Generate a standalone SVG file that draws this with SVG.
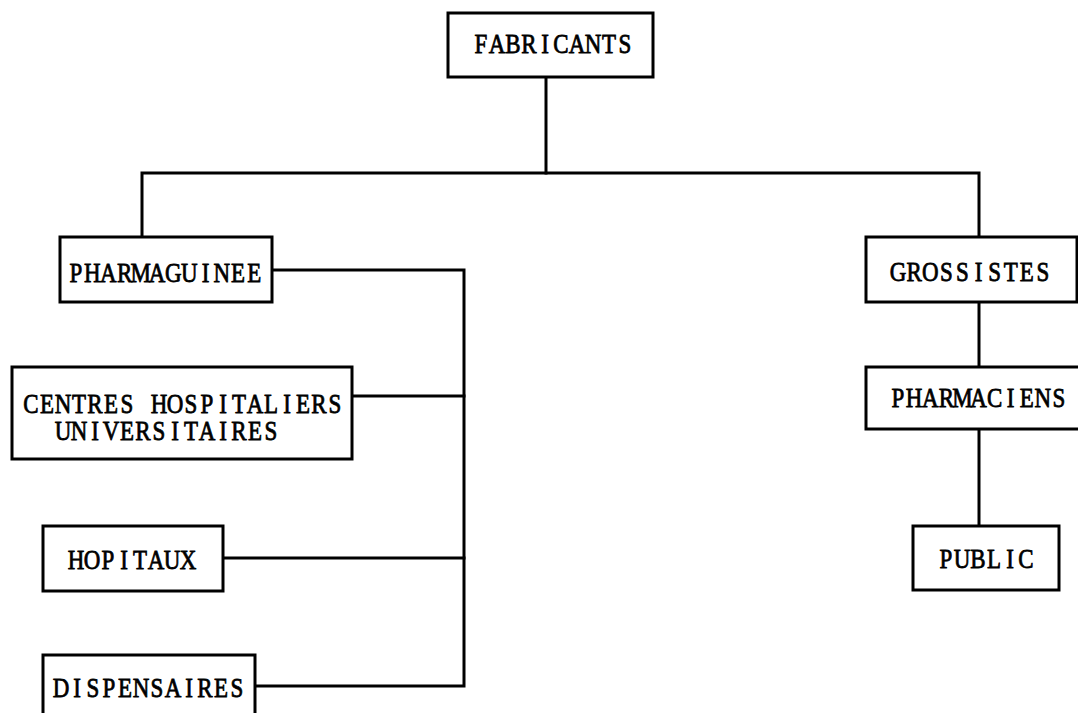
<svg xmlns="http://www.w3.org/2000/svg" width="1078" height="713" viewBox="0 0 1078 713">
  <style>
    .box { fill: #ffffff; stroke: #000000; stroke-width: 3; }
    /* typewriter look: each glyph centred in a 16px cell, serif face narrowed by the transform */
    .lbl { font-family: "Liberation Serif", "Times New Roman", serif; font-size: 28px; fill: #000000; stroke: #000000; stroke-width: 0.8; text-anchor: middle; }
    .wire { fill: none; stroke: #000000; stroke-width: 3; stroke-linejoin: miter; stroke-linecap: square; }
  </style>
  <rect width="1078" height="713" fill="#ffffff"/>

  <!-- connectors -->
  <g id="connectors">
    <path class="wire" d="M546 77 V173"/>
    <path class="wire" d="M142 237 V173 H979 V237"/>
    <path class="wire" d="M272 270 H464 V686 H255"/>
    <path class="wire" d="M352 396 H464"/>
    <path class="wire" d="M223 558 H464"/>
    <path class="wire" d="M979 302 V367"/>
    <path class="wire" d="M979 429 V526"/>
  </g>

  <g id="fabricants">
    <rect class="box" x="448" y="13" width="205" height="64"/>
    <text class="lbl" transform="translate(481 53) scale(0.82 1)" x="0 19.51 39.02 58.54 78.05 97.56 117.07 136.59 156.10 175.61" y="0">FABRICANTS</text>
  </g>

  <g id="pharmaguinee">
    <rect class="box" x="60" y="237" width="212" height="65"/>
    <text class="lbl" transform="translate(76 282) scale(0.82 1)" x="0 19.76 39.51 59.27 79.02 98.78 118.54 138.29 158.05 177.80 197.56 217.32" y="0">PHARMAGUINEE</text>
  </g>

  <g id="chu">
    <rect class="box" x="12" y="367" width="340" height="92"/>
    <text class="lbl" transform="translate(31 413) scale(0.82 1)" x="0 19.51 39.02 58.54 78.05 97.56 117.07 136.59 156.10 175.61 195.12 214.63 234.15 253.66 273.17 292.68 312.20 331.71 351.22 370.73" y="0">CENTRES HOSPITALIERS</text>
    <text class="lbl" transform="translate(63 440) scale(0.82 1)" x="0 19.51 39.02 58.54 78.05 97.56 117.07 136.59 156.10 175.61 195.12 214.63 234.15 253.66" y="0">UNIVERSITAIRES</text>
  </g>

  <g id="hopitaux">
    <rect class="box" x="43" y="526" width="180" height="65"/>
    <text class="lbl" transform="translate(76 569) scale(0.82 1)" x="0 19.51 39.02 58.54 78.05 97.56 117.07 136.59" y="0">HOPITAUX</text>
  </g>

  <g id="dispensaires">
    <rect class="box" x="43" y="655" width="212" height="70"/>
    <text class="lbl" transform="translate(61 697) scale(0.82 1)" x="0 19.51 39.02 58.54 78.05 97.56 117.07 136.59 156.10 175.61 195.12 214.63" y="0">DISPENSAIRES</text>
  </g>

  <g id="grossistes">
    <rect class="box" x="866" y="237" width="211" height="65"/>
    <text class="lbl" transform="translate(898 281) scale(0.82 1)" x="0 19.63 39.27 58.90 78.54 98.17 117.80 137.44 157.07 176.71" y="0">GROSSISTES</text>
  </g>

  <g id="pharmaciens">
    <rect class="box" x="866" y="367" width="220" height="62"/>
    <text class="lbl" transform="translate(898 407) scale(0.82 1)" x="0 19.63 39.27 58.90 78.54 98.17 117.80 137.44 157.07 176.71 196.34" y="0">PHARMACIENS</text>
  </g>

  <g id="public">
    <rect class="box" x="913" y="526" width="146" height="64"/>
    <text class="lbl" transform="translate(946 568) scale(0.82 1)" x="0 19.51 39.02 58.54 78.05 97.56" y="0">PUBLIC</text>
  </g>
</svg>
